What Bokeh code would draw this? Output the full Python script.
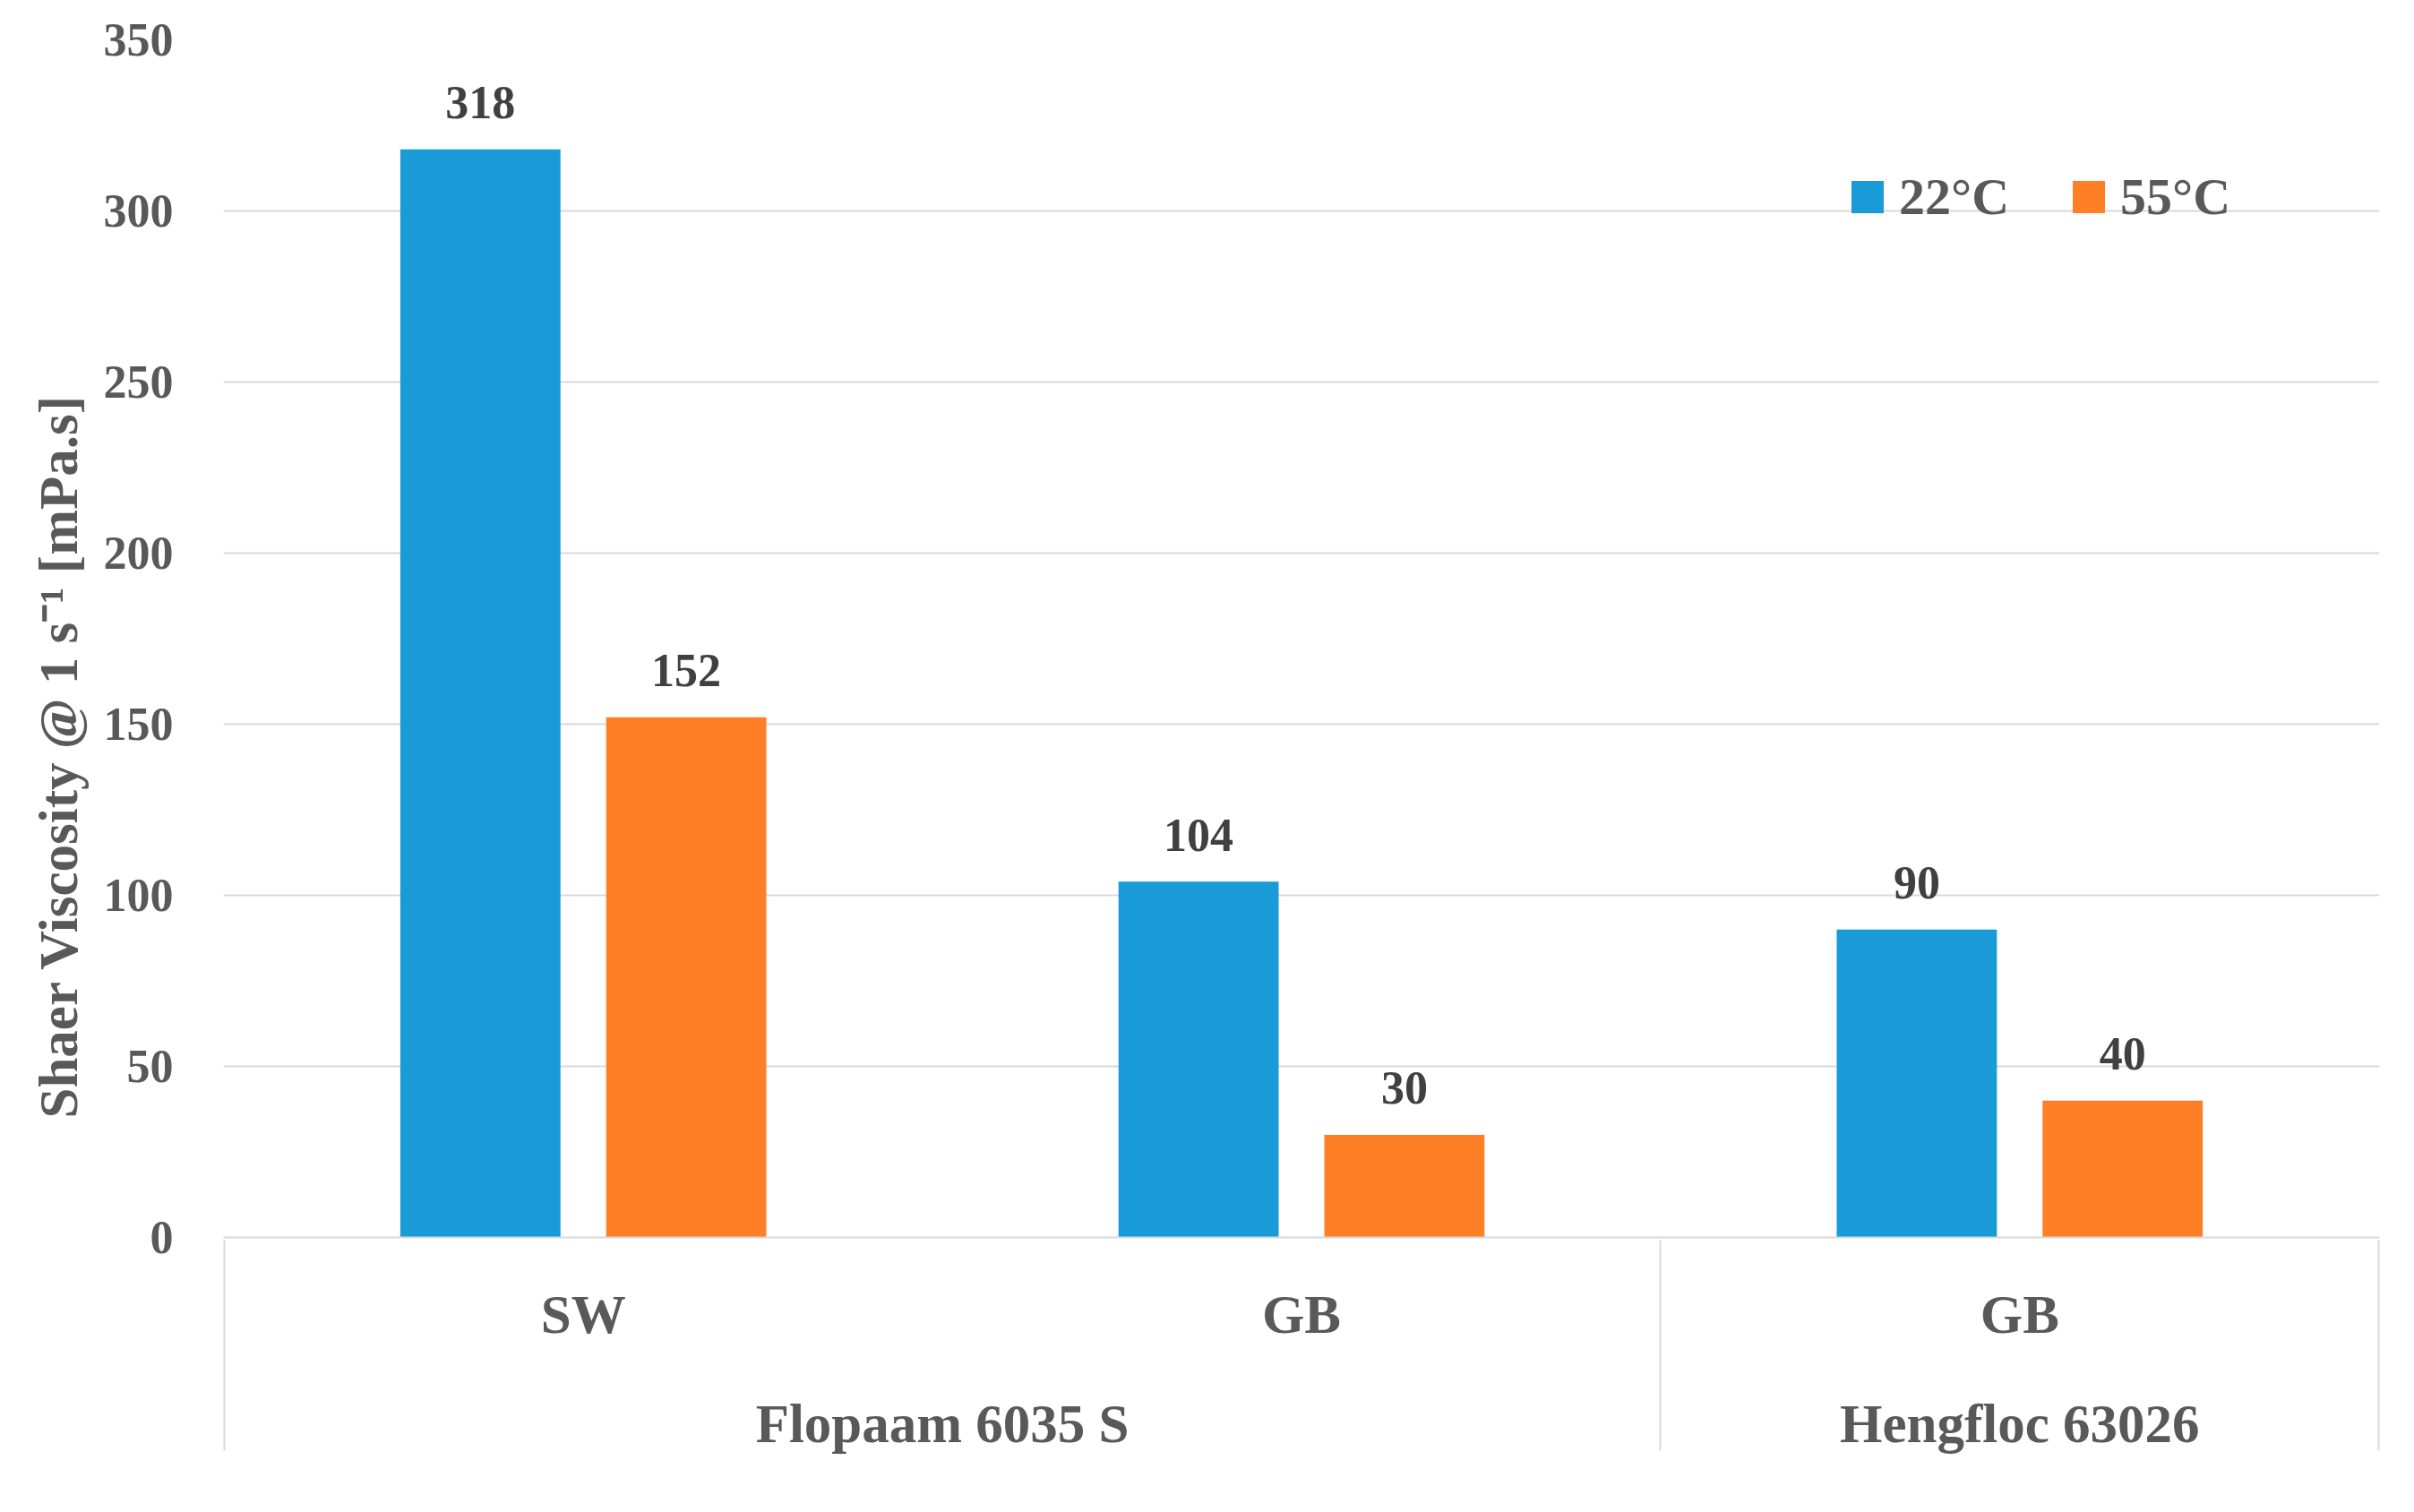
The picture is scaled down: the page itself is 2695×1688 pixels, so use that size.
from bokeh.plotting import figure
from bokeh.models import FactorRange, ColumnDataSource, FixedTicker, Title
from bokeh.transform import dodge
from bokeh.core.properties import value
from bokeh.embed import file_html
from bokeh.resources import INLINE

# ---- data ----
polymers = ["Flopaam 6035 S", "Flopaam 6035 S", "Hengfloc 63026"]
brines = ["SW", "GB", "GB"]
visc_22C = [318, 104, 90]
visc_55C = [152, 30, 40]
series_names = ["22°C", "55°C"]
y_tick_values = [0, 50, 100, 150, 200, 250, 300, 350]
y_title = "Shaer Viscosity @ 1 s\u207b\u00b9 [mPa.s]"

BLUE = "#189BD7"
ORANGE = "#FF7F27"
GRID = "#D9D9D9"
TXT = "#595959"
DARK = "#404040"
FONT = "Liberation Serif"

factors = list(zip(polymers, brines))
src = ColumnDataSource(data=dict(
    x=factors,
    v22=visc_22C,
    v55=visc_55C,
    l22=[str(v) for v in visc_22C],
    l55=[str(v) for v in visc_55C],
))

# blank outer groups (just outside the visible range) so that the axis draws
# its group separators at both edges of the category area as well
edge_factors = [(" ", " ")] + factors + [("  ", "  ")]
n = len(edge_factors)
x_range = FactorRange(*edge_factors, group_padding=0, factor_padding=0,
                      range_padding=-2.0 * (1 - 0.001) / n,
                      range_padding_units="percent")

p = figure(width=2679, height=1672, x_range=x_range, y_range=(0, 350),
           output_backend="svg", toolbar_location=None,
           min_border_left=249, min_border_right=23, min_border_top=44,
           min_border_bottom=291)

off = 0.1433
bw = 0.223
p.vbar(x=dodge("x", -off, range=p.x_range), top="v22", width=bw, source=src,
       fill_color=BLUE, line_color=None, legend_label=series_names[0])
p.vbar(x=dodge("x", off, range=p.x_range), top="v55", width=bw, source=src,
       fill_color=ORANGE, line_color=None, legend_label=series_names[1])

for col, lab, o in (("v22", "l22", -off), ("v55", "l55", off)):
    p.text(x=dodge("x", o, range=p.x_range), y=col, text=lab, source=src,
           text_align="center", text_baseline="alphabetic", y_offset=-52,
           text_font=value(FONT), text_font_style="bold",
           text_font_size="52px", text_color=DARK)

# grid
p.xgrid.grid_line_color = None
p.ygrid.grid_line_color = GRID
p.ygrid.grid_line_width = 2
p.outline_line_color = None

# y axis
p.yaxis.ticker = FixedTicker(ticks=y_tick_values)
p.yaxis.axis_line_color = None
p.yaxis.major_tick_line_color = None
p.yaxis.minor_tick_line_color = None
p.yaxis.major_label_text_font = FONT
p.yaxis.major_label_text_font_style = "bold"
p.yaxis.major_label_text_font_size = "52px"
p.yaxis.major_label_text_color = TXT
p.yaxis.major_label_standoff = 50

# y title (centered on plot + category area, like the original)
yt = Title(text=y_title, align="left", offset=133, standoff=28,
           text_font=FONT, text_font_style="bold", text_font_size="61px",
           text_color=TXT)
p.add_layout(yt, "left")

# x axis
xa = p.xaxis[0]
xa.axis_line_color = GRID
xa.axis_line_width = 2
xa.major_tick_line_color = None
xa.minor_tick_line_color = None
xa.major_tick_out = 0
xa.major_tick_in = 0
xa.major_label_text_font = FONT
xa.major_label_text_font_style = "bold"
xa.major_label_text_font_size = "61px"
xa.major_label_text_color = TXT
xa.major_label_standoff = 52
xa.group_text_font = FONT
xa.group_text_font_style = "bold"
xa.group_text_font_size = "61px"
xa.group_text_color = TXT
xa.separator_line_color = GRID
xa.separator_line_width = 2

# legend
lg = p.legend[0]
lg.orientation = "horizontal"
lg.location = (1813, 1128)
lg.border_line_color = None
lg.background_fill_alpha = 0
lg.padding = 0
lg.margin = 0
lg.spacing = 66
lg.glyph_width = 45
lg.glyph_height = 45
lg.label_standoff = 13
lg.label_text_font = FONT
lg.label_text_font_style = "bold"
lg.label_text_font_size = "58px"
lg.label_text_color = TXT

open("out.html", "w").write(file_html(p, INLINE))
